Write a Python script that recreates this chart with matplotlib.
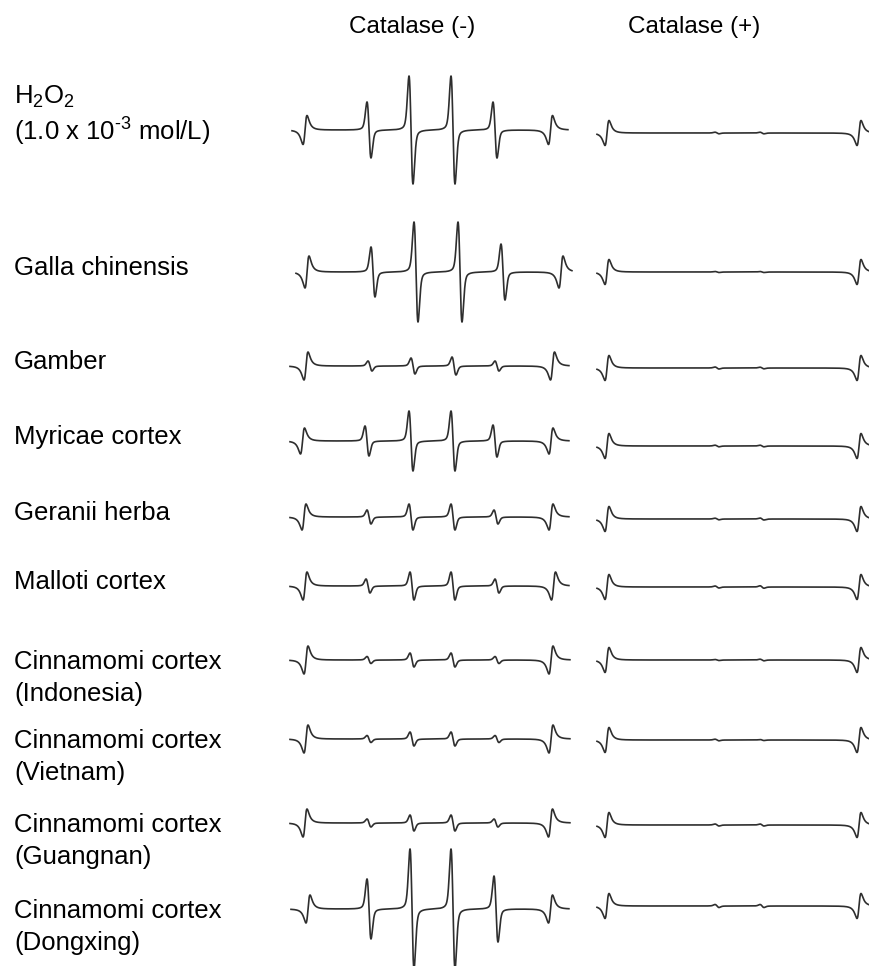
import numpy as np
import matplotlib
matplotlib.use('Agg')
import matplotlib.pyplot as plt

plt.rcParams['font.family'] = ['Liberation Sans', 'DejaVu Sans']
plt.rcParams['mathtext.fontset'] = 'custom'
plt.rcParams['mathtext.rm'] = 'Liberation Sans'
plt.rcParams['mathtext.it'] = 'Liberation Sans:italic'

# sample labels (left column)
labels = [
    "H$_\\mathregular{2}$O$_\\mathregular{2}$\n(1.0 x 10$^{\\mathregular{\u20103}}$ mol/L)",
    "Galla chinensis",
    "Gamber",
    "Myricae cortex",
    "Geranii herba",
    "Malloti cortex",
    "Cinnamomi cortex\n(Indonesia)",
    "Cinnamomi cortex\n(Vietnam)",
    "Cinnamomi cortex\n(Guangnan)",
    "Cinnamomi cortex\n(Dongxing)",
]
headers = ["Catalase (-)", "Catalase (+)"]

# Catalase (-) spectra: baseline, sweep range, Mn marker lines, DMPO-OH quartet
base_neg = [130, 272, 366, 441, 517, 586, 660, 739, 823, 909]
start_neg = [292, 296, 290, 290, 290, 290, 290, 290, 290, 291]
end_neg = [568, 572, 569, 569, 569, 569, 570, 570, 570, 569]
mn_left_neg = [305, 307, 306, 302.5, 304, 305, 306, 306, 305, 308]
mn_right_neg = [550.5, 561, 552.5, 551, 551, 553.5, 551, 551, 550.5, 550.5]
mn_amp_neg = [14.5, 16, 14, 13, 13, 14, 14, 14, 14, 14]
peak_pos_neg = [
    [369, 411, 453, 495],
    [373, 416, 460, 503],
    [370, 413, 454, 497],
    [367, 411, 453, 495],
    [369, 411, 453, 496],
    [368, 412, 453, 497],
    [369, 412, 453, 497],
    [369, 412, 453, 497],
    [369, 412, 453, 496],
    [369, 412, 453, 496],
]
peak_amp_neg = [
    [28, 54, 54, 28],
    [25, 50, 50, 28],
    [5, 8, 9, 5],
    [15, 30, 30, 16],
    [7, 13, 13, 7],
    [7, 14, 14, 7],
    [3.5, 7, 7, 3.5],
    [3.5, 7, 7, 3.5],
    [4, 8, 8, 4],
    [30, 60, 60, 33],
]

# Catalase (+) spectra: only the Mn markers plus tiny residual signals
base_pos = [133, 272, 368, 446, 519, 587, 660, 740, 825, 906]
start_pos = 597
end_pos = 869
mn_left_pos = 607
mn_right_pos = 859
mn_amp_pos = [12.5, 12.5, 12.5, 12.5, 12.5, 12.5, 12.5, 12.5, 12.5, 12.5]
resid_pos = [717, 762]
resid_amp = [
    [0.8, 0.8],
    [0.5, 0.5],
    [1.0, 0.8],
    [0.8, 0.8],
    [0.8, 1.0],
    [1.0, 1.2],
    [0.5, 0.8],
    [0.8, 0.5],
    [1.0, 1.0],
    [1.5, 1.5],
]

MN_W = 3.5
PEAK_W = 2.0
GAUSS_FRAC = 0.7


def dlor(x, c, w, amp):
    # first-derivative Lorentzian, lobe height = amp
    u = (x - c) / w
    return amp * (-2 * u / (1 + u ** 2) ** 2) / 0.6495


def dvoigt(x, c, w, amp):
    # mostly Gaussian derivative with a little Lorentzian tail
    u = (x - c) / w
    g = -u * np.exp(-u ** 2 / 2) / 0.6065
    return amp * GAUSS_FRAC * g + dlor(x, c, w * 1.7, amp * (1 - GAUSS_FRAC))


fig = plt.figure(figsize=(8.69, 9.66), dpi=100)
ax = fig.add_axes([0, 0, 1, 1])
ax.set_xlim(0, 869)
ax.set_ylim(966, 0)
ax.axis('off')

line_kw = dict(color='#2e2e2e', lw=1.2, solid_joinstyle='round')

for i in range(len(labels)):
    # Catalase (-)
    x = np.arange(start_neg[i], end_neg[i], 0.1)
    s = dlor(x, mn_left_neg[i], MN_W, -mn_amp_neg[i])
    s += dlor(x, mn_right_neg[i], MN_W, -mn_amp_neg[i])
    for p, a in zip(peak_pos_neg[i], peak_amp_neg[i]):
        s += dvoigt(x, p, PEAK_W, a)
    ax.plot(x, base_neg[i] - s, **line_kw)

    # Catalase (+)
    x = np.arange(start_pos, end_pos, 0.1)
    s = dlor(x, mn_left_pos, MN_W, -mn_amp_pos[i])
    s += dlor(x, mn_right_pos, MN_W, -mn_amp_pos[i])
    for p, a in zip(resid_pos, resid_amp[i]):
        s += dvoigt(x, p, PEAK_W, a)
    ax.plot(x, base_pos[i] - s, **line_kw)

# row labels
for i, lab in enumerate(labels):
    if i == 0:
        ax.text(14, base_neg[i] - 14, lab, fontsize=18.5, ha='left', va='center',
                linespacing=1.25)
    elif '\n' in lab:
        ax.text(14, base_neg[i] + 18, lab, fontsize=18.5, ha='left', va='center',
                linespacing=1.4)
    else:
        ax.text(14, base_neg[i] - 4, lab, fontsize=18.5, ha='left', va='center')

ax.text(412, 27, headers[0], fontsize=17.5, ha='center', va='center')
ax.text(694, 27, headers[1], fontsize=17.5, ha='center', va='center')

fig.savefig('out.png', dpi=100, facecolor='white')
